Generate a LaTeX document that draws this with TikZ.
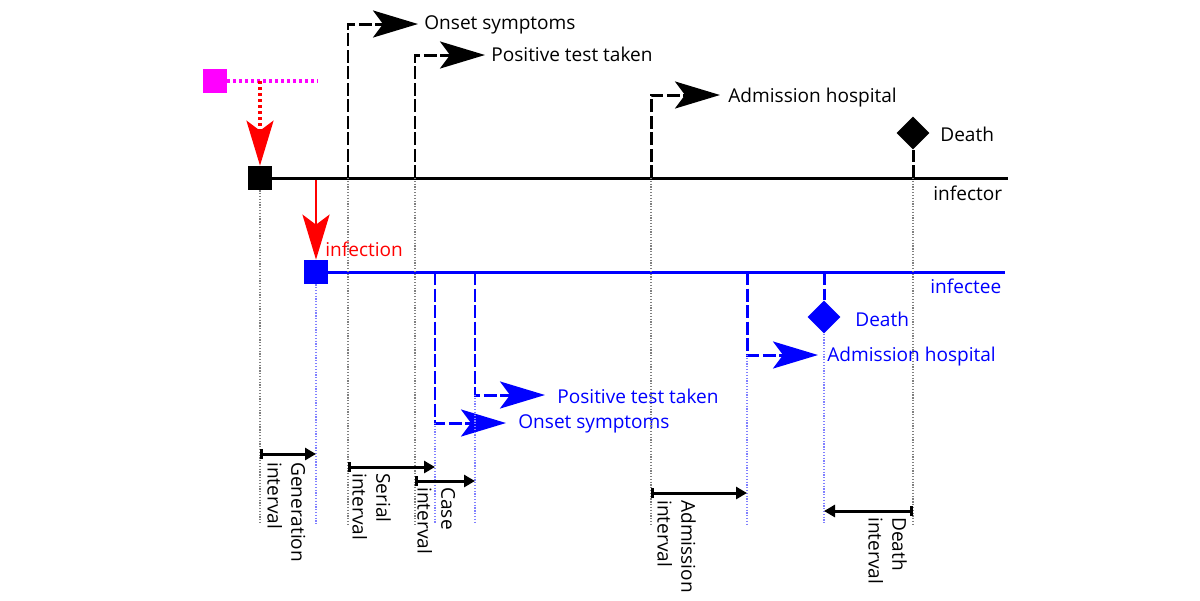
\documentclass[tikz,border=0pt]{standalone}
\usepackage{fontspec}
\setmainfont{Open Sans}
\usetikzlibrary{arrows.meta,shapes.geometric}
\definecolor{magpure}{RGB}{255,0,255}
\tikzset{
 mainln/.style={line width=1.7pt},
 bigtip/.style={-{Stealth[length=0.9cm,width=0.54cm,inset=0.2cm]}},
 evdash/.style={line width=1.7pt, dash pattern=on 0.26cm off 0.07cm, bigtip},
 dotln/.style={line width=1.8pt, dash pattern=on 0.06cm off 0.06cm},
 guide/.style={line width=0.8pt, dash pattern=on 0.7pt off 0.9pt, black!50},
 bguide/.style={line width=0.8pt, dash pattern=on 0.7pt off 0.9pt, blue!50},
 ivl/.style={line width=1.7pt, {Bar[width=0.2cm]}-{Triangle[length=0.22cm,width=0.24cm]}},
 sqnode/.style={minimum size=0.48cm, inner sep=0, fill, draw=none},
 dianode/.style={diamond, minimum width=0.66cm, minimum height=0.66cm, inner sep=0, fill, draw=none},
 lbl/.style={inner sep=0, anchor=base west},
 rlbl/.style={inner sep=0, rotate=-90, anchor=south west, align=left},
}
\begin{document}
\begin{tikzpicture}[x=0.02cm,y=-0.02cm, every node/.append style={font=\fontsize{10.85pt}{13.6pt}\selectfont}]
\useasboundingbox (0,0) rectangle (1200,600);
% squares
\node[sqnode, magpure] (mag) at (215,81) {};
\node[sqnode, black] (sqA) at (260,178) {};
\node[sqnode, blue] (sqB) at (316,272) {};
% magenta / red dotted
\coordinate (magend) at (318,81);
\coordinate (magsplit) at (260,81);
\draw[dotln, magpure] (mag.east) -- (magend);
\draw[dotln, red, bigtip] (magsplit) -- (sqA.north);
% timelines
\coordinate (infEnd) at (1008,178);
\coordinate (infeeEnd) at (1005,272);
\draw[mainln] (sqA.east) -- (infEnd);
\draw[mainln, blue] (sqB.east) -- (infeeEnd);
\node[lbl] (linfector) at (933,200) {infector};
\node[lbl, blue] (linfectee) at (930,293) {infectee};
% infection
\coordinate (infStart) at (316,180);
\draw[mainln, red, bigtip] (infStart) -- (sqB.north);
\node[lbl, red] (linfection) at (325,256) {infection};
% infector events
\coordinate (aOn) at (348,178);
\coordinate (aPos) at (415,178);
\coordinate (aAdm) at (651,178);
\coordinate (aDth) at (913,178);
\coordinate (aOnT) at (418,24);
\coordinate (aPosT) at (485,55);
\coordinate (aAdmT) at (720,95);
\draw[evdash] (aOn) |- (aOnT);
\draw[evdash] (aPos) |- (aPosT);
\draw[evdash] (aAdm) |- (aAdmT);
\node[dianode] (dA) at (913,133) {};
\draw[mainln, dash pattern=on 0.26cm off 0.07cm] (aDth) -- (dA.south);
\node[lbl] (lOnA) at (424,29) {Onset symptoms};
\node[lbl] (lPosA) at (491,61) {Positive test taken};
\node[lbl] (lAdmA) at (728,102) {Admission hospital};
\node[lbl] (lDthA) at (940,141) {Death};
% infectee events
\coordinate (bOn) at (435,272);
\coordinate (bPos) at (475,272);
\coordinate (bAdm) at (747,272);
\coordinate (bDth) at (824,272);
\coordinate (bOnT) at (506,423);
\coordinate (bPosT) at (545,395);
\coordinate (bAdmT) at (818,355);
\coordinate (bOnC) at (435,423);
\coordinate (bPosC) at (475,395);
\coordinate (bAdmC) at (747,355);
\draw[evdash, blue] (bOn) |- (bOnT);
\draw[evdash, blue] (bPos) |- (bPosT);
\draw[evdash, blue] (bAdm) |- (bAdmT);
\node[dianode, blue] (dB) at (824,317) {};
\draw[mainln, blue, dash pattern=on 0.26cm off 0.07cm] (bDth) -- (dB.north);
\node[lbl, blue] (lOnB) at (518,428) {Onset symptoms};
\node[lbl, blue] (lPosB) at (557,403) {Positive test taken};
\node[lbl, blue] (lAdmB) at (827,361) {Admission hospital};
\node[lbl, blue] (lDthB) at (855,326) {Death};
% guides
\coordinate (gA0) at (260,524);
\coordinate (gA1) at (348,524);
\coordinate (gA2) at (415,524);
\coordinate (gA3) at (651,524);
\coordinate (gA4) at (913,524);
\coordinate (gB0) at (316,524);
\coordinate (gB1) at (435,524);
\coordinate (gB2) at (475,524);
\coordinate (gB3) at (747,524);
\coordinate (gB4) at (824,524);
\draw[guide] (sqA.south) -- (gA0);
\draw[guide] (aOn) -- (gA1);
\draw[guide] (aPos) -- (gA2);
\draw[guide] (aAdm) -- (gA3);
\draw[guide] (aDth) -- (gA4);
\draw[bguide] (sqB.south) -- (gB0);
\draw[bguide] (bOnC) -- (gB1);
\draw[bguide] (bPosC) -- (gB2);
\draw[bguide] (bAdmC) -- (gB3);
\draw[bguide] (dB.south) -- (gB4);
% intervals
\coordinate (iG0) at (260,454); \coordinate (iG1) at (316,454);
\coordinate (iS0) at (348,467); \coordinate (iS1) at (435,467);
\coordinate (iC0) at (415,481); \coordinate (iC1) at (475,481);
\coordinate (iA0) at (651,493); \coordinate (iA1) at (747,493);
\coordinate (iD0) at (913,511); \coordinate (iD1) at (824,511);
\draw[ivl] (iG0) -- (iG1);
\draw[ivl] (iS0) -- (iS1);
\draw[ivl] (iC0) -- (iC1);
\draw[ivl] (iA0) -- (iA1);
\draw[ivl] (iD0) -- (iD1);
\node[rlbl] (lG) at (267,462) {Generation\\interval};
\node[rlbl] (lS) at (352,473) {Serial\\interval};
\node[rlbl] (lC) at (417,487) {Case\\interval};
\node[rlbl] (lA) at (657,500) {Admission\\interval};
\node[rlbl] (lD) at (868,517) {Death\\interval};
\end{tikzpicture}
\end{document}
